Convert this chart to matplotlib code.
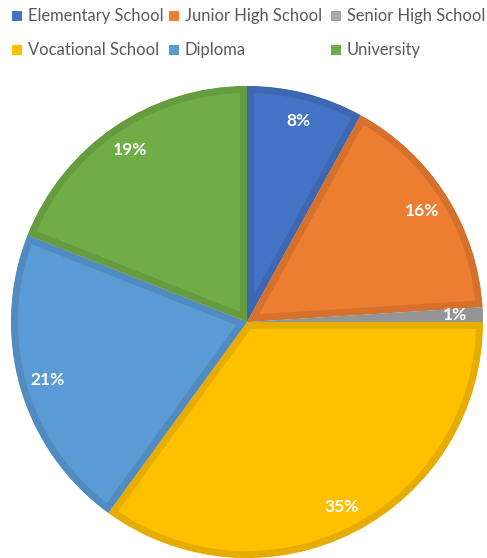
import matplotlib
matplotlib.use("Agg")
import matplotlib.pyplot as plt
from matplotlib.patches import Rectangle
from matplotlib.colors import to_rgb

categories = ["Elementary School", "Junior High School", "Senior High School",
              "Vocational School", "Diploma", "University"]
values = [8, 16, 1, 35, 21, 19]
colors = ["#4472C4", "#ED7D31", "#A5A5A5", "#FFC000", "#5B9BD5", "#70AD47"]

W, H = 487, 558
fig = plt.figure(figsize=(W / 100, H / 100), dpi=100)
fig.patch.set_facecolor("white")

cx, cy, R = 247, 322, 236
ax = fig.add_axes([(cx - R) / W, (H - cy - R) / H, 2 * R / W, 2 * R / H])

def darker(c, f=0.9):
    r, g, b = to_rgb(c)
    return (r * f, g * f, b * f)

wedges, texts = ax.pie(values, colors=colors, startangle=90, counterclock=False,
                       radius=1, labels=[f"{v}%" for v in values],
                       labeldistance=0.88,
                       textprops=dict(color="white", fontsize=12.5, fontweight="bold",
                                      family=["Lato", "DejaVu Sans"], ha="center", va="center"))
ax.set_xlim(-1, 1)
ax.set_ylim(-1, 1)
ax.set_aspect("equal")
ax.axis("off")
for w, c in zip(wedges, colors):
    w.set_edgecolor(darker(c))
    w.set_linewidth(10)
    w.set_joinstyle("miter")
    w.set_clip_path(w)
    w.set_clip_on(True)

# legend
legend_pos = [(17, 16), (174, 16), (336, 16), (17, 50), (174, 50), (336, 50)]
for (lx, ly), cat, c in zip(legend_pos, categories, colors):
    fig.patches.append(Rectangle(((lx - 5) / W, (H - ly - 5) / H), 10 / W, 10 / H,
                                 transform=fig.transFigure, facecolor=c, edgecolor="none"))
    fig.text((lx + 11) / W, (H - ly) / H, cat, ha="left", va="center",
             fontsize=11.9, color="#595959", family=["Lato", "DejaVu Sans"])

fig.savefig("out.png", dpi=100)
